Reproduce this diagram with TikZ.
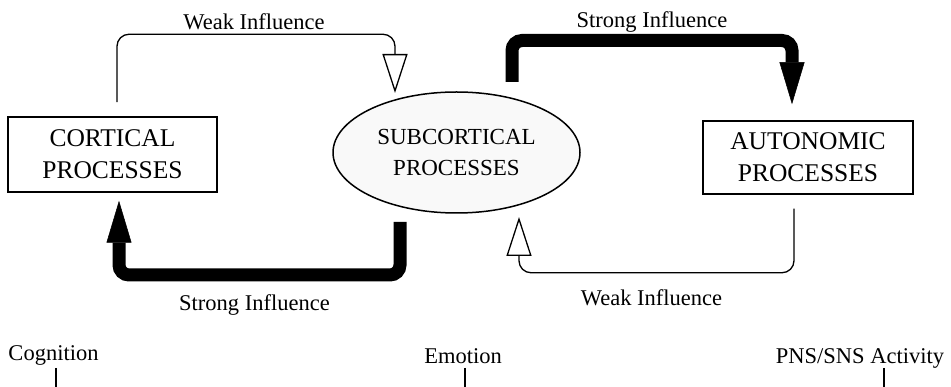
\documentclass[tikz,border=0pt]{standalone}
\usepackage{fontspec}
\setmainfont{Liberation Serif}
\usetikzlibrary{arrows.meta,calc,shapes.geometric}

\tikzset{
  procbox/.style={draw, line width=1.5pt, inner sep=0pt, align=center,
    font=\fontsize{25.5}{32}\selectfont,
    execute at begin node={\rule{0pt}{27pt}}},
  subproc/.style={draw, ellipse, line width=1.5pt, fill=gray!5, inner sep=0pt,
    align=center, font=\fontsize{23}{32}\selectfont,
    execute at begin node={\rule{0pt}{24pt}}},
  infl/.style={inner sep=0pt, anchor=base, font=\fontsize{22.5}{27}\selectfont},
  weak/.style={line width=1.3pt, rounded corners=12pt,
    -{Triangle[open, length=39pt, width=25pt]}},
  strong/.style={line width=13pt, rounded corners=10pt,
    -{Triangle[length=42pt, width=25pt, line width=0.5pt]}},
  tick/.style={line width=1.2pt}
}

\begin{document}
\begin{tikzpicture}[x=1pt, y=-1pt]
  \useasboundingbox (0,0) rectangle (951,387);

  % the three processes
  \node[procbox, minimum width=209pt, minimum height=75pt] (cort) at (112.5,154.5)
    {CORTICAL\\PROCESSES};
  \node[subproc, minimum width=247pt, minimum height=121pt] (sub) at (456.5,152.5)
    {SUBCORTICAL\\PROCESSES};
  \node[procbox, minimum width=210pt, minimum height=73pt] (auto) at (808,157.5)
    {AUTONOMIC\\PROCESSES};

  % end points of the influence arrows
  \coordinate (wA) at ($(cort.north)+(4.5,-14)$);
  \coordinate (wAtip) at ($(sub.center)+(-61.5,-59.5)$);
  \coordinate (sA) at ($(sub.center)+(55.5,-70.5)$);
  \coordinate (sAtip) at ($(auto.north)+(-16,-16)$);
  \coordinate (sB) at ($(sub.center)+(-56.5,69.5)$);
  \coordinate (sBtip) at ($(cort.south)+(6.5,8)$);
  \coordinate (wB) at ($(auto.south)+(-14,14)$);
  \coordinate (wBtip) at ($(sub.center)+(62.5,64.5)$);

  % influence arrows
  \draw[weak] (wA) -- ++(0,-68) -| (wAtip);
  \draw[strong] (sA) -- ++(0,-41.5) -| (sAtip);
  \draw[strong] (sB) -- ++(0,53) -| (sBtip);
  \draw[weak] (wB) -- ++(0,64) -| (wBtip);

  % arrow labels
  \node[infl] (lwA) at (254,30) {Weak Influence};
  \node[infl] (lsA) at (652,28) {Strong Influence};
  \node[infl] (lsB) at (254.5,311) {Strong Influence};
  \node[infl] (lwB) at (651.5,306) {Weak Influence};

  % axis labels with their ticks
  \node[infl] (cog) at (53.5,361) {Cognition};
  \node[infl] (emo) at (463,363) {Emotion};
  \node[infl] (pns) at (860,363) {PNS/SNS Activity};
  \coordinate (cogend) at (56,387);
  \coordinate (emoend) at (465,387);
  \coordinate (pnsend) at (884,387);
  \draw[tick] ($(cog.base -| cogend)+(0,7)$) -- (cogend);
  \draw[tick] ($(emo.base -| emoend)+(0,5)$) -- (emoend);
  \draw[tick] ($(pns.base -| pnsend)+(0,5)$) -- (pnsend);
\end{tikzpicture}
\end{document}
